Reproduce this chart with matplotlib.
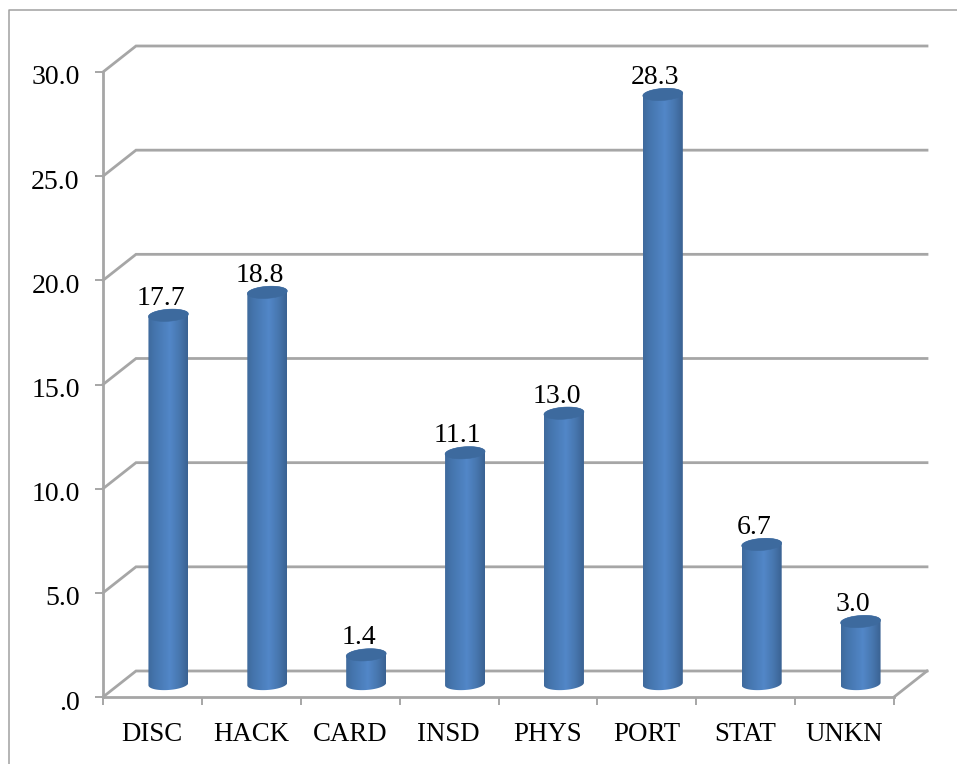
import numpy as np
import matplotlib
matplotlib.use("Agg")
import matplotlib.pyplot as plt
from matplotlib.colors import LinearSegmentedColormap
from matplotlib.lines import Line2D
from matplotlib.patches import PathPatch
from matplotlib.path import Path
from matplotlib.transforms import ScaledTranslation

categories = ["DISC", "HACK", "CARD", "INSD", "PHYS", "PORT", "STAT", "UNKN"]
values = [17.7, 18.8, 1.4, 11.1, 13.0, 28.3, 6.7, 3.0]
value_labels = ["17.7", "18.8", "1.4", "11.1", "13.0", "28.3", "6.7", "3.0"]
y_ticks = [0, 5, 10, 15, 20, 25, 30]
y_tick_labels = [".0", "5.0", "10.0", "15.0", "20.0", "25.0", "30.0"]

W, H = 957, 764
GRID = "#a6a6a6"
plt.rcParams["font.family"] = ["Liberation Serif", "DejaVu Serif"]

fig = plt.figure(figsize=(W / 100, H / 100), dpi=100)
ax = fig.add_axes([103 / W, 1 - 697 / H, (894 - 103) / W, (697 - 72) / H])

# pseudo-3D depth, in axis units
DX, DY = 33 / 98.875, 26 / 20.83
WIDTH = 40 / 98.875
EB = 6 / 20.83
TILT = 1.3 / 20.83

# frame
fig.add_artist(Line2D([9 / W, 9 / W, 1], [0, 1 - 10 / H, 1 - 10 / H], color="#a0a0a0", lw=1.1))

# walls
for v in y_ticks:
    ax.plot([-0.5, -0.5 + DX, 7.5 + DX], [v, v + DY, v + DY], color=GRID, lw=2.0,
            clip_on=False, zorder=1, solid_joinstyle="miter")
ax.plot([7.5, 7.5 + DX], [0, DY], color=GRID, lw=2.0, clip_on=False, zorder=1)

cmap = LinearSegmentedColormap.from_list(
    "cyl", [(0, "#3f6a9c"), (0.15, "#4474ac"), (0.55, "#5287c8"), (0.8, "#4776ae"), (1, "#3a6292")])
grad = np.linspace(0, 1, 128).reshape(1, -1)


def ellipse(xc, yc, t):
    return np.column_stack([xc + WIDTH / 2 * np.cos(t),
                            yc + EB * np.sin(t) + TILT * np.cos(t)])


for i, v in enumerate(values):
    xc = i + DX / 2 - 0.005
    base = DY / 2
    top = v + DY / 2
    front = ellipse(xc, base, np.linspace(np.pi, 2 * np.pi, 40))
    upper = ellipse(xc, top, np.linspace(0, np.pi, 40))
    side = np.vstack([front, upper, front[:1]])
    img = ax.imshow(grad, cmap=cmap, aspect="auto", zorder=3, interpolation="bilinear",
                    extent=(xc - WIDTH / 2, xc + WIDTH / 2, base - EB - TILT, top + EB + TILT))
    patch = PathPatch(Path(side), transform=ax.transData, fc="none", ec="none")
    ax.add_patch(patch)
    img.set_clip_path(patch)
    img.set_clip_on(True)
    cap = ellipse(xc, top, np.linspace(0, 2 * np.pi, 80))
    ax.add_patch(PathPatch(Path(cap), fc="#3d6a9e", ec="#3d6a9e", lw=0.4, zorder=4, clip_on=False))
    ax.text(xc - 0.075, top + 0.5, value_labels[i], ha="center", va="baseline",
            fontsize=20, color="black", zorder=5, clip_on=False)

ax.set_xlim(-0.5, 7.5)
ax.set_ylim(0, 30)
ax.patch.set_visible(False)
for s in ["top", "right"]:
    ax.spines[s].set_visible(False)
for s in ["left", "bottom"]:
    ax.spines[s].set_color(GRID)
    ax.spines[s].set_linewidth(2.0)
    ax.spines[s].set_zorder(2)

ax.set_yticks(y_ticks)
ax.set_yticklabels(y_tick_labels, fontsize=20)
ax.tick_params(axis="y", length=5.8, width=1.4, color=GRID, pad=11)
ax.set_xticks(range(len(categories)))
ax.set_xticklabels(categories, fontsize=19.4)
ax.tick_params(axis="x", which="major", length=0, pad=17.7)
ax.set_xticks(np.arange(-0.5, 8, 1), minor=True)
ax.tick_params(axis="x", which="minor", length=6, width=1.4, color=GRID)

shift_y = ScaledTranslation(0, -3 / 100, fig.dpi_scale_trans)
for t in ax.get_yticklabels():
    t.set_transform(t.get_transform() + shift_y)
shift_x = ScaledTranslation(-0.5 / 100, 0, fig.dpi_scale_trans)
for t in ax.get_xticklabels():
    t.set_transform(t.get_transform() + shift_x)

fig.savefig("out.png", dpi=100)
